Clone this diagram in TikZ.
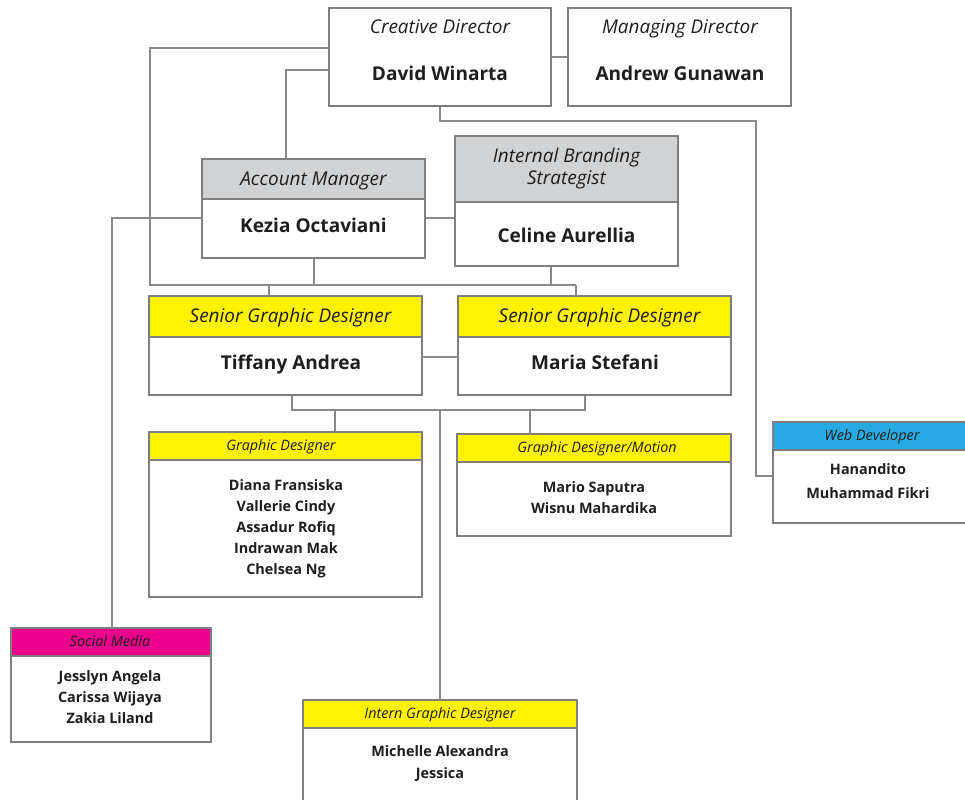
\documentclass[tikz,border=0pt]{standalone}
\usepackage{fontspec}
\setmainfont{Open Sans}
\usetikzlibrary{fit}
\definecolor{bordc}{HTML}{7F7F7F}
\definecolor{connc}{HTML}{8A8A8A}
\definecolor{hgray}{HTML}{D1D2D4}
\definecolor{hyell}{HTML}{FFF200}
\definecolor{hblue}{HTML}{27AAE1}
\definecolor{hmag}{HTML}{EC008C}
\definecolor{txt}{HTML}{1E1E1E}
\tikzset{
  box/.style={draw=bordc, line width=1pt, inner sep=0pt},
  bigrole/.style={font=\fontsize{14.2}{16.5}\selectfont\itshape, text=txt, inner sep=0pt, text height=0.72em, text depth=0pt},
  bigname/.style={font=\fontsize{14.3}{17}\selectfont\bfseries, text=txt, inner sep=0pt, text height=0.72em, text depth=0pt},
  smallrole/.style={font=\fontsize{10.8}{13}\selectfont\itshape, text=txt, inner sep=0pt, text height=0.72em, text depth=0pt},
  smallnames/.style={font=\fontsize{10.8}{15.8}\selectfont\bfseries, text=txt, align=center, inner sep=0pt},
  conn/.style={draw=connc, line width=1pt},
}
\begin{document}
\begin{tikzpicture}[x=0.75pt,y=-0.75pt]
\path[use as bounding box] (0,0) rectangle (965,800);
\clip (0,0) rectangle (965,800);
\fill[white] (0,0) rectangle (965,800);

% ---------- boxes ----------
\node[box, fit={(329,8) (551,106)}] (cd) {};
\node[bigrole] (cdr) at (440,29) {Creative Director};
\node[bigname] (cdn) at (440,76) {David Winarta};

\node[box, fit={(568,8) (791,106)}] (md) {};
\node[bigrole] (mdr) at (680,29) {Managing Director};
\node[bigname] (mdn) at (680,76) {Andrew Gunawan};

\node[box, fill=hgray, fit={(202,159) (425,199)}] (amh) {};
\node[bigrole] (amr) at (313.5,181) {Account Manager};
\node[box, fit={(202,199) (425,258)}] (am) {};
\node[bigname] (amn) at (313.5,228) {Kezia Octaviani};

\node[box, fill=hgray, fit={(455,136) (678,202)}] (ibsh) {};
\node[font=\fontsize{14.2}{16.5}\selectfont\itshape, text=txt, align=center, inner sep=0pt] (ibsr) at (566.5,169) {Internal Branding\\Strategist};
\node[box, fit={(455,202) (678,266)}] (ibs) {};
\node[bigname] (ibsn) at (566.5,238) {Celine Aurellia};

\node[box, fill=hyell, fit={(149,296) (422,337)}] (tifh) {};
\node[bigrole] (tifr) at (290.5,318) {Senior Graphic Designer};
\node[box, fit={(149,337) (422,395)}] (tif) {};
\node[bigname] (tifn) at (291,365) {Tiffany Andrea};

\node[box, fill=hyell, fit={(458,296) (731,337)}] (marh) {};
\node[bigrole] (marr) at (599.5,318) {Senior Graphic Designer};
\node[box, fit={(458,337) (731,395)}] (mar) {};
\node[bigname] (marn) at (595,365) {Maria Stefani};

\node[box, fill=hyell, fit={(149,432) (422,460)}] (gdh) {};
\node[smallrole] (gdr) at (281,446) {Graphic Designer};
\node[box, fit={(149,460) (422,597)}] (gd) {};
\node[smallnames] (gdn) at (286,528.5) {Diana Fransiska\\Vallerie Cindy\\Assadur Rofiq\\Indrawan Mak\\Chelsea Ng};

\node[box, fill=hyell, fit={(457,434) (731,462)}] (gmh) {};
\node[smallrole] (gmr) at (597,448) {Graphic Designer/Motion};
\node[box, fit={(457,462) (731,536)}] (gm) {};
\node[smallnames] (gmn) at (594,497.5) {Mario Saputra\\Wisnu Mahardika};

\node[box, fill=hblue, fit={(773,422) (971,450)}] (webh) {};
\node[smallrole] (webr) at (872,435.5) {Web Developer};
\node[box, fit={(773,450) (971,523)}] (web) {};
\node[smallnames, font=\fontsize{10.8}{18}\selectfont\bfseries] (webn) at (868,481.5) {Hanandito\\Muhammad Fikri};

\node[box, fill=hmag, fit={(11,628) (211,656)}] (smh) {};
\node[smallrole] (smr) at (110,642) {Social Media};
\node[box, fit={(11,656) (211,742)}] (sm) {};
\node[smallnames] (smn) at (110,697) {Jesslyn Angela\\Carissa Wijaya\\Zakia Liland};

\node[box, fill=hyell, fit={(303,700) (577,728)}] (inh) {};
\node[smallrole] (inr) at (440,714) {Intern Graphic Designer};
\node[box, fit={(303,728) (577,830)}] (in) {};
\node[smallnames] (inn) at (440,763.5) {Michelle Alexandra\\Jessica};

% ---------- bus coordinates ----------
\coordinate (busA) at (150,285);
\coordinate (busB) at (292,410);
\coordinate (bendW) at (756,121);
\coordinate (bendS) at (112,218);

% ---------- connectors ----------
\draw[conn] (cd.east |- 0,57) -- (md.west |- 0,57);
\draw[conn] (cd.west |- 0,48) -| (busA) -- (576,285);
\draw[conn] (tifh.north -| 269,0) -- (269,285);
\draw[conn] (marh.north -| 576,0) -- (576,285);
\draw[conn] (am.south -| 314,0) -- (314,285);
\draw[conn] (ibs.south -| 551,0) -- (551,285);
\draw[conn] (cd.west |- 0,70) -| (amh.north -| 286,0);
\draw[conn] (cd.south -| 440,0) |- (bendW) |- (web.west |- 0,476);
\draw[conn] (am.east |- 0,218) -- (ibs.west |- 0,218);
\draw[conn] (am.west |- 0,218) -- (bendS) -- (smh.north -| 112,0);
\draw[conn] (tif.east |- 0,357) -- (mar.west |- 0,357);
\draw[conn] (tif.south -| 292,0) -- (busB) -| (mar.south -| 585,0);
\draw[conn] (335,410) -- (gdh.north -| 335,0);
\draw[conn] (530,410) -- (gmh.north -| 530,0);
\draw[conn] (440,410) -- (inh.north -| 440,0);
\end{tikzpicture}
\end{document}
